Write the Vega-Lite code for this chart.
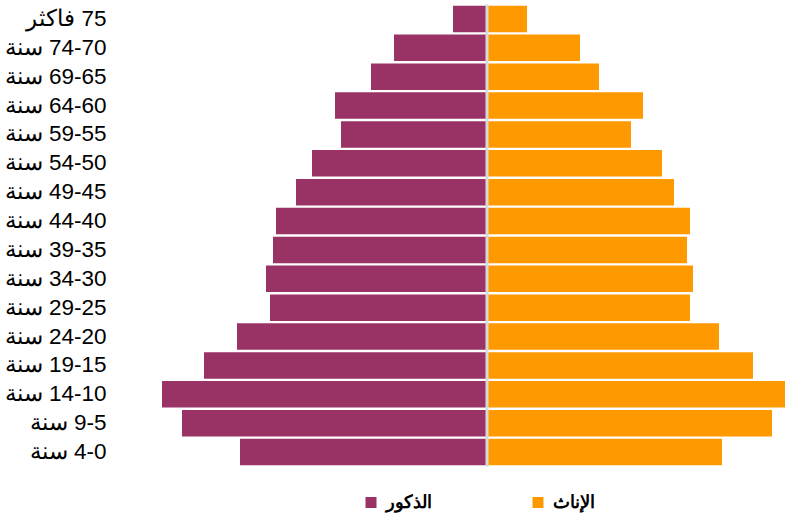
{
  "$schema": "https://vega.github.io/schema/vega-lite/v6.json",
  "autosize": {"type": "none"},
  "padding": {"left": 116, "top": 4.5, "right": 0, "bottom": 49.5},
  "width": 669,
  "height": 462,
  "background": "white",
  "config": {"view": {"stroke": null}},
  "datasets": {
    "pyramid": [
      {"age": "\u200F75 فاكثر", "sex": "الذكور", "population": 34},
      {"age": "\u200F74-70 سنة", "sex": "الذكور", "population": 93},
      {"age": "\u200F69-65 سنة", "sex": "الذكور", "population": 116},
      {"age": "\u200F64-60 سنة", "sex": "الذكور", "population": 152},
      {"age": "\u200F59-55 سنة", "sex": "الذكور", "population": 146},
      {"age": "\u200F54-50 سنة", "sex": "الذكور", "population": 175},
      {"age": "\u200F49-45 سنة", "sex": "الذكور", "population": 191},
      {"age": "\u200F44-40 سنة", "sex": "الذكور", "population": 211},
      {"age": "\u200F39-35 سنة", "sex": "الذكور", "population": 214},
      {"age": "\u200F34-30 سنة", "sex": "الذكور", "population": 221},
      {"age": "\u200F29-25 سنة", "sex": "الذكور", "population": 217},
      {"age": "\u200F24-20 سنة", "sex": "الذكور", "population": 250},
      {"age": "\u200F19-15 سنة", "sex": "الذكور", "population": 283},
      {"age": "\u200F14-10 سنة", "sex": "الذكور", "population": 325},
      {"age": "\u200F9-5 سنة", "sex": "الذكور", "population": 305},
      {"age": "\u200F4-0 سنة", "sex": "الذكور", "population": 247},
      {"age": "\u200F75 فاكثر", "sex": "الإناث", "population": 40},
      {"age": "\u200F74-70 سنة", "sex": "الإناث", "population": 93},
      {"age": "\u200F69-65 سنة", "sex": "الإناث", "population": 112},
      {"age": "\u200F64-60 سنة", "sex": "الإناث", "population": 156},
      {"age": "\u200F59-55 سنة", "sex": "الإناث", "population": 144},
      {"age": "\u200F54-50 سنة", "sex": "الإناث", "population": 175},
      {"age": "\u200F49-45 سنة", "sex": "الإناث", "population": 187},
      {"age": "\u200F44-40 سنة", "sex": "الإناث", "population": 203},
      {"age": "\u200F39-35 سنة", "sex": "الإناث", "population": 200},
      {"age": "\u200F34-30 سنة", "sex": "الإناث", "population": 206},
      {"age": "\u200F29-25 سنة", "sex": "الإناث", "population": 203},
      {"age": "\u200F24-20 سنة", "sex": "الإناث", "population": 232},
      {"age": "\u200F19-15 سنة", "sex": "الإناث", "population": 266},
      {"age": "\u200F14-10 سنة", "sex": "الإناث", "population": 298},
      {"age": "\u200F9-5 سنة", "sex": "الإناث", "population": 285},
      {"age": "\u200F4-0 سنة", "sex": "الإناث", "population": 235}
    ]
  },
  "data": {"name": "pyramid"},
  "encoding": {
    "y": {
      "field": "age",
      "type": "nominal",
      "sort": null,
      "scale": {"paddingInner": 0.085, "paddingOuter": 0.0425},
      "axis": {
        "title": null,
        "domain": false,
        "ticks": false,
        "grid": false,
        "labelFont": "Liberation Sans",
        "labelFontSize": 22.5,
        "labelColor": "#000000",
        "labelPadding": 10,
        "labelLimit": 200
      }
    },
    "color": {
      "field": "sex",
      "type": "nominal",
      "scale": {"domain": ["الذكور", "الإناث"], "range": ["#993366", "#FF9900"]},
      "legend": {
        "title": null,
        "orient": "none",
        "direction": "horizontal",
        "legendX": 246,
        "legendY": 489,
        "padding": 0,
        "symbolType": "square",
        "symbolSize": 121,
        "symbolStrokeWidth": 0,
        "labelFont": "Liberation Sans",
        "labelFontSize": 18,
        "labelFontWeight": "bold",
        "labelColor": "#000000",
        "labelOffset": 6,
        "columnPadding": 97
      }
    }
  },
  "layer": [
    {
      "transform": [{"filter": {"field": "sex", "equal": "الذكور"}}],
      "mark": {"type": "bar"},
      "encoding": {
        "x": {
          "field": "population",
          "type": "quantitative",
          "scale": {"domain": [-298, 371], "reverse": true, "nice": false, "zero": false},
          "axis": null
        }
      }
    },
    {
      "transform": [{"filter": {"field": "sex", "equal": "الإناث"}}],
      "mark": {"type": "bar"},
      "encoding": {
        "x": {
          "field": "population",
          "type": "quantitative",
          "scale": {"domain": [-371, 298], "nice": false, "zero": false},
          "axis": null
        }
      }
    },
    {
      "data": {"values": [{"center": 0}]},
      "mark": {"type": "rule", "color": "#d9d9d9", "strokeWidth": 3},
      "encoding": {
        "x": {
          "field": "center",
          "type": "quantitative",
          "scale": {"domain": [-371, 298], "nice": false, "zero": false},
          "axis": null
        },
        "y": null,
        "color": null
      }
    }
  ],
  "resolve": {"scale": {"x": "independent"}}
}
